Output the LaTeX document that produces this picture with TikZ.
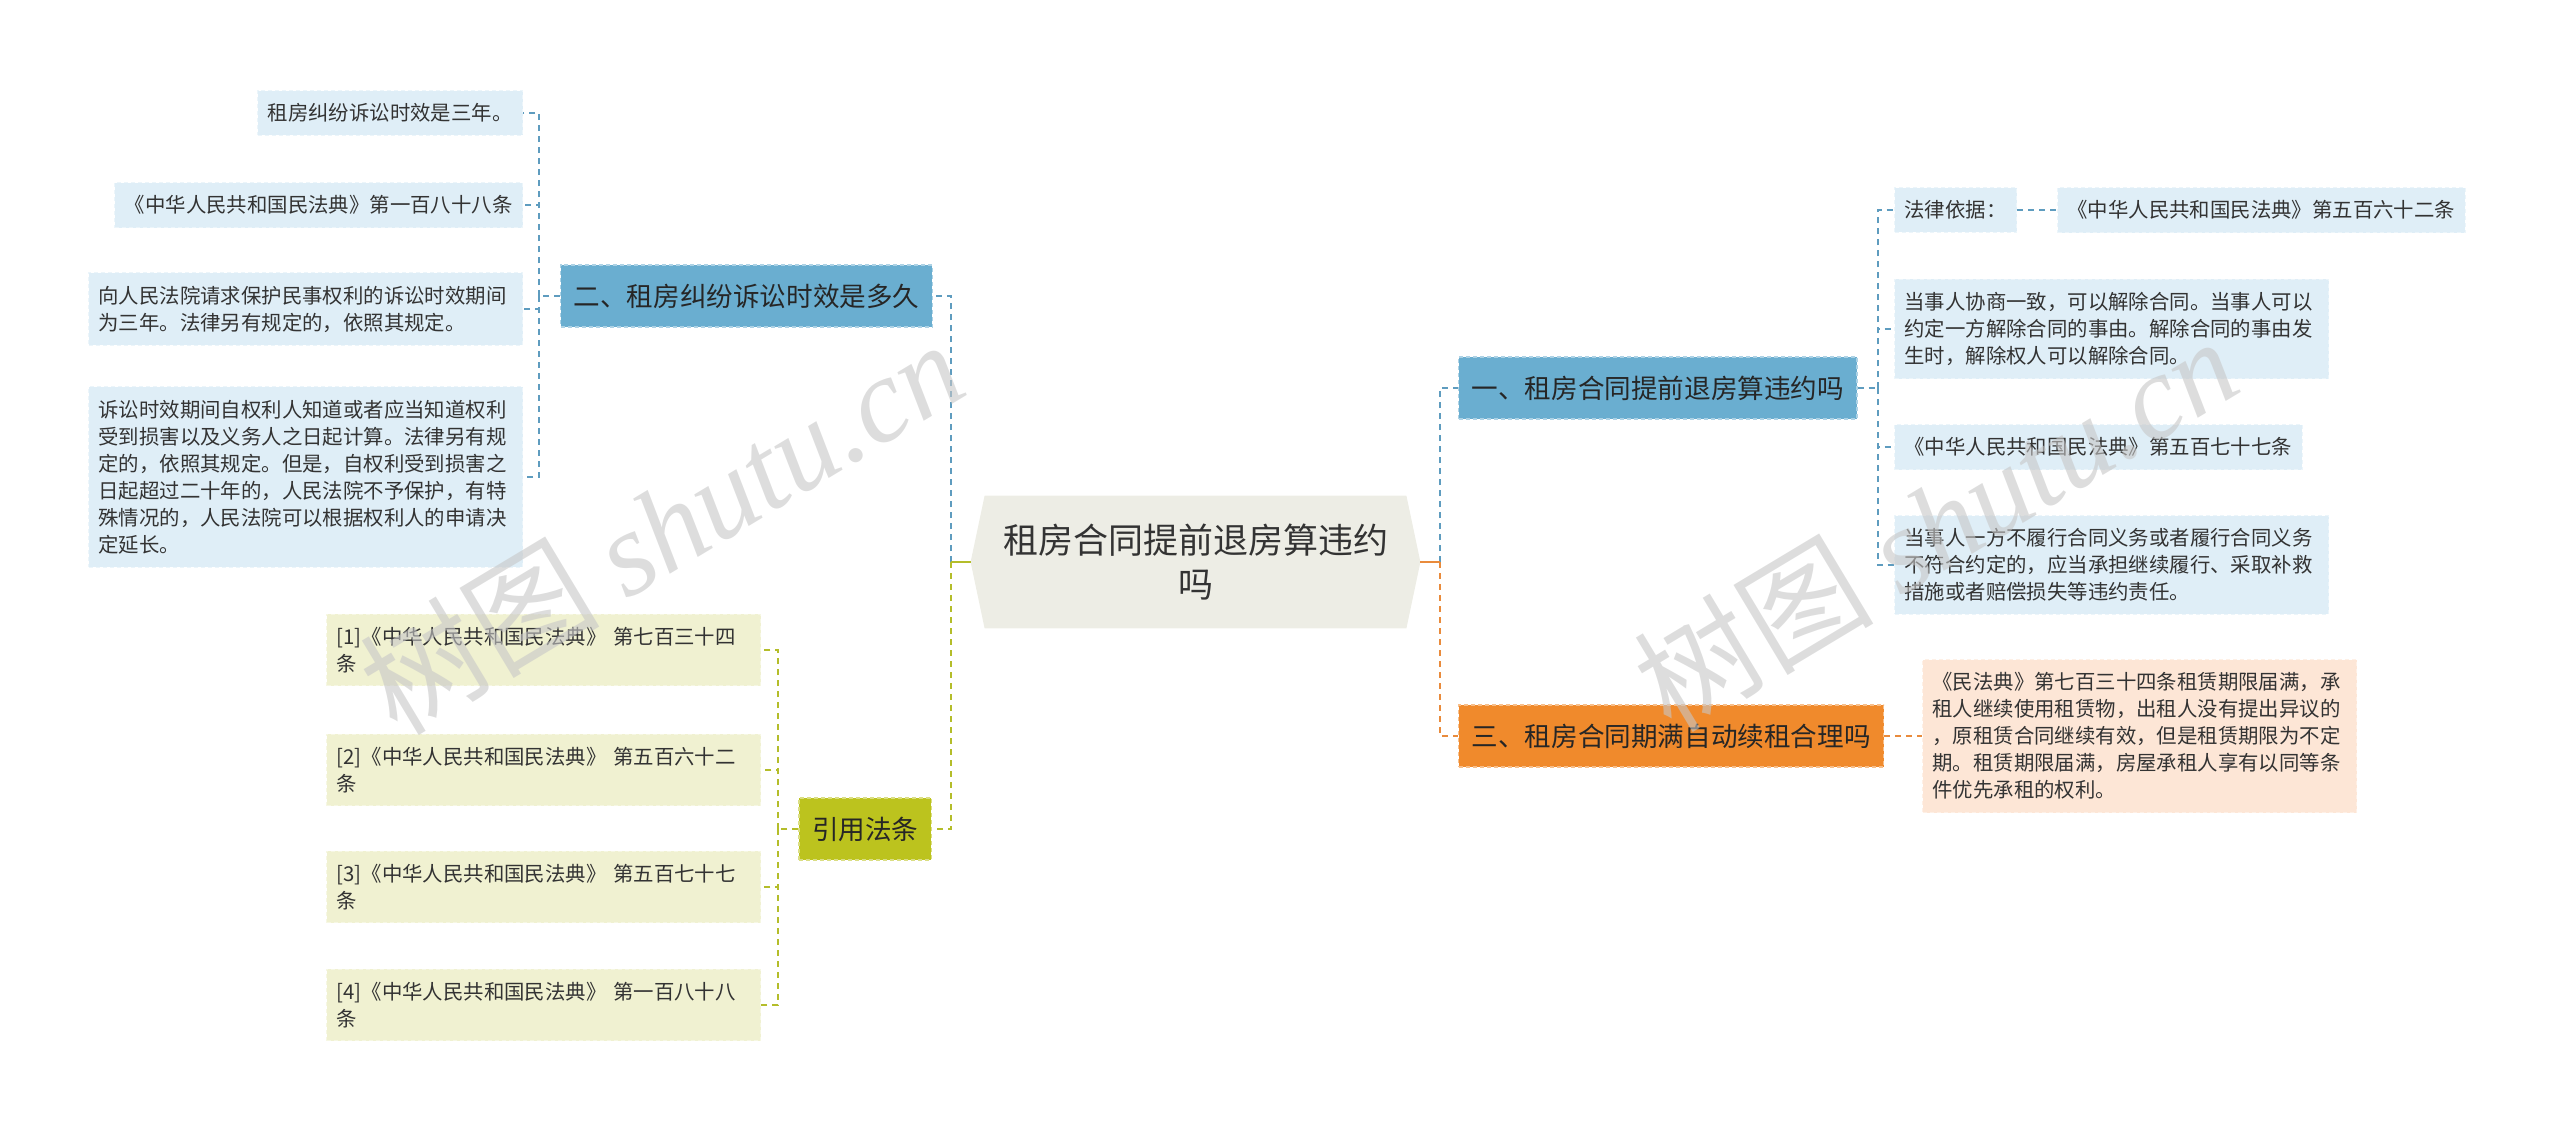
\documentclass[tikz,border=0pt]{standalone}
\usepackage{fontspec}
\setmainfont{Noto Sans CJK SC}
\newfontfamily\wmfont{Liberation Serif}
\usetikzlibrary{calc,backgrounds}
\definecolor{brbleu}{RGB}{106,174,208}
\definecolor{fbleu}{RGB}{223,238,247}
\definecolor{lbleu}{RGB}{94,156,191}
\definecolor{brolive}{RGB}{188,195,30}
\definecolor{folive}{RGB}{240,241,209}
\definecolor{lolive}{RGB}{180,189,42}
\definecolor{brorange}{RGB}{240,138,44}
\definecolor{forange}{RGB}{253,230,214}
\definecolor{lorange}{RGB}{233,139,60}
\definecolor{fracine}{RGB}{237,237,229}
\tikzset{
    racine/.style={font=\fontsize{17.5pt}{22pt}\selectfont, text=black!80, align=center,
      minimum width=224.5pt, minimum height=66pt, inner sep=0pt},
    branche/.style={font=\fontsize{13.3pt}{16pt}\selectfont, text=black!85,
      inner xsep=6.5pt, inner ysep=0pt, minimum height=31pt,
      draw=white!45!#1, fill=#1, dash pattern=on 2pt off 1.5pt, line width=0.6pt},
    feuille/.style={font=\fontsize{10.2pt}{13.5pt}\selectfont, text=black!80, align=left,
      inner xsep=5pt, inner ysep=6.5pt, fill=#1, draw=white!40!#1,
      dash pattern=on 2pt off 1.5pt, line width=0.5pt},
    large/.style={text width=207pt},
    lien/.style={draw=#1, line width=1pt, dash pattern=on 3pt off 2.5pt},
    filigrane/.style={font=\fontsize{60pt}{60pt}\selectfont, text=black!22, text opacity=0.6},
  }
\begin{document}
\begin{tikzpicture}[x=0.5pt,y=-0.5pt]
	\useasboundingbox (0,0) rectangle (2560,1131);

	%RACINE
	\node[racine] (rac) at (1195.5,562) {租房合同提前退房算违约\\吗};
	\begin{scope}[on background layer]
	  \fill[fracine] ($(rac.north west)+(14,0)$) -- ($(rac.north east)+(-14,0)$) -- (rac.east)
	    -- ($(rac.south east)+(-14,0)$) -- ($(rac.south west)+(14,0)$) -- (rac.west) -- cycle;
	\end{scope}
	\coordinate (jg) at ($(rac.west)+(-20,0)$);
	\coordinate (jd) at ($(rac.east)+(20,0)$);

	%BRANCHES
	\node[branche=brbleu, anchor=east] (b2) at (933,296) {二、租房纠纷诉讼时效是多久};
	\node[branche=brolive, anchor=east] (b4) at (932,829) {引用法条};
	\node[branche=brbleu, anchor=west] (b1) at (1458,388) {一、租房合同提前退房算违约吗};
	\node[branche=brorange, anchor=west] (b3) at (1458,736) {三、租房合同期满自动续租合理吗};
	\draw[lien=lbleu] (jg) |- (b2.east);
	\draw[lien=lolive] (jg) |- (b4.east);
	\draw[lolive, line width=1pt] (rac.west) -- (jg);
	\draw[lien=lbleu] (jd) |- (b1.west);
	\draw[lien=lorange] (jd) |- (b3.west);
	\draw[lorange, line width=1pt] (rac.east) -- (jd);

	%DEUX
	\node[feuille=fbleu, anchor=east] (l1) at (523,113) {租房纠纷诉讼时效是三年。};
	\node[feuille=fbleu, anchor=east] (l2) at (523,205) {《中华人民共和国民法典》第一百八十八条};
	\node[feuille=fbleu, large, anchor=east] (l3) at (523,309)
	  {向人民法院请求保护民事权利的诉讼时效期间\\为三年。法律另有规定的，依照其规定。};
	\node[feuille=fbleu, large, anchor=east] (l4) at (523,477)
	  {诉讼时效期间自权利人知道或者应当知道权利\\受到损害以及义务人之日起计算。法律另有规\\定的，依照其规定。但是，自权利受到损害之\\日起超过二十年的，人民法院不予保护，有特\\殊情况的，人民法院可以根据权利人的申请决\\定延长。};
	\coordinate (j2) at ($(b2.west)+(-21,0)$);
	\draw[lien=lbleu] (b2.west) -- (j2);
	\foreach \f in {l1,l2,l3,l4}
	  \draw[lien=lbleu] (j2) |- (\f.east);

	%CITATIONS
	\node[feuille=folive, large, anchor=east] (c1) at (761,650) {[1]《中华人民共和国民法典》 第七百三十四\\条};
	\node[feuille=folive, large, anchor=east] (c2) at (761,770) {[2]《中华人民共和国民法典》 第五百六十二\\条};
	\node[feuille=folive, large, anchor=east] (c3) at (761,887) {[3]《中华人民共和国民法典》 第五百七十七\\条};
	\node[feuille=folive, large, anchor=east] (c4) at (761,1005) {[4]《中华人民共和国民法典》 第一百八十八\\条};
	\coordinate (j4) at ($(b4.west)+(-20,0)$);
	\draw[lien=lolive] (b4.west) -- (j4);
	\foreach \f in {c1,c2,c3,c4}
	  \draw[lien=lolive] (j4) |- (\f.east);

	%UN
	\node[feuille=fbleu, anchor=west] (r1a) at (1894,210) {法律依据：};
	\node[feuille=fbleu, anchor=west] (r1b) at (2057,210) {《中华人民共和国民法典》第五百六十二条};
	\node[feuille=fbleu, large, anchor=west] (r2) at (1894,329)
	  {当事人协商一致，可以解除合同。当事人可以\\约定一方解除合同的事由。解除合同的事由发\\生时，解除权人可以解除合同。};
	\node[feuille=fbleu, anchor=west] (r3) at (1894,447) {《中华人民共和国民法典》第五百七十七条};
	\node[feuille=fbleu, large, anchor=west] (r4) at (1894,565)
	  {当事人一方不履行合同义务或者履行合同义务\\不符合约定的，应当承担继续履行、采取补救\\措施或者赔偿损失等违约责任。};
	\coordinate (j1) at ($(b1.east)+(20,0)$);
	\draw[lien=lbleu] (b1.east) -- (j1);
	\foreach \f in {r1a,r2,r3,r4}
	  \draw[lien=lbleu] (j1) |- (\f.west);
	\draw[lien=lbleu] (r1a.east) -- (r1b.west);

	%TROIS
	\node[feuille=forange, large, anchor=west] (o1) at (1922,736)
	  {《民法典》第七百三十四条租赁期限届满，承\\租人继续使用租赁物，出租人没有提出异议的\\，原租赁合同继续有效，但是租赁期限为不定\\期。租赁期限届满，房屋承租人享有以同等条\\件优先承租的权利。};
	\draw[lien=lorange] (b3.east) -- (o1.west);

	%FILIGRANE
	\node[filigrane, rotate=31] (fg1) at (661,526) {树图 {\wmfont\itshape shutu.cn}};
	\node[filigrane, rotate=31] (fg2) at (1935,523) {树图 {\wmfont\itshape shutu.cn}};
\end{tikzpicture}
\end{document}
